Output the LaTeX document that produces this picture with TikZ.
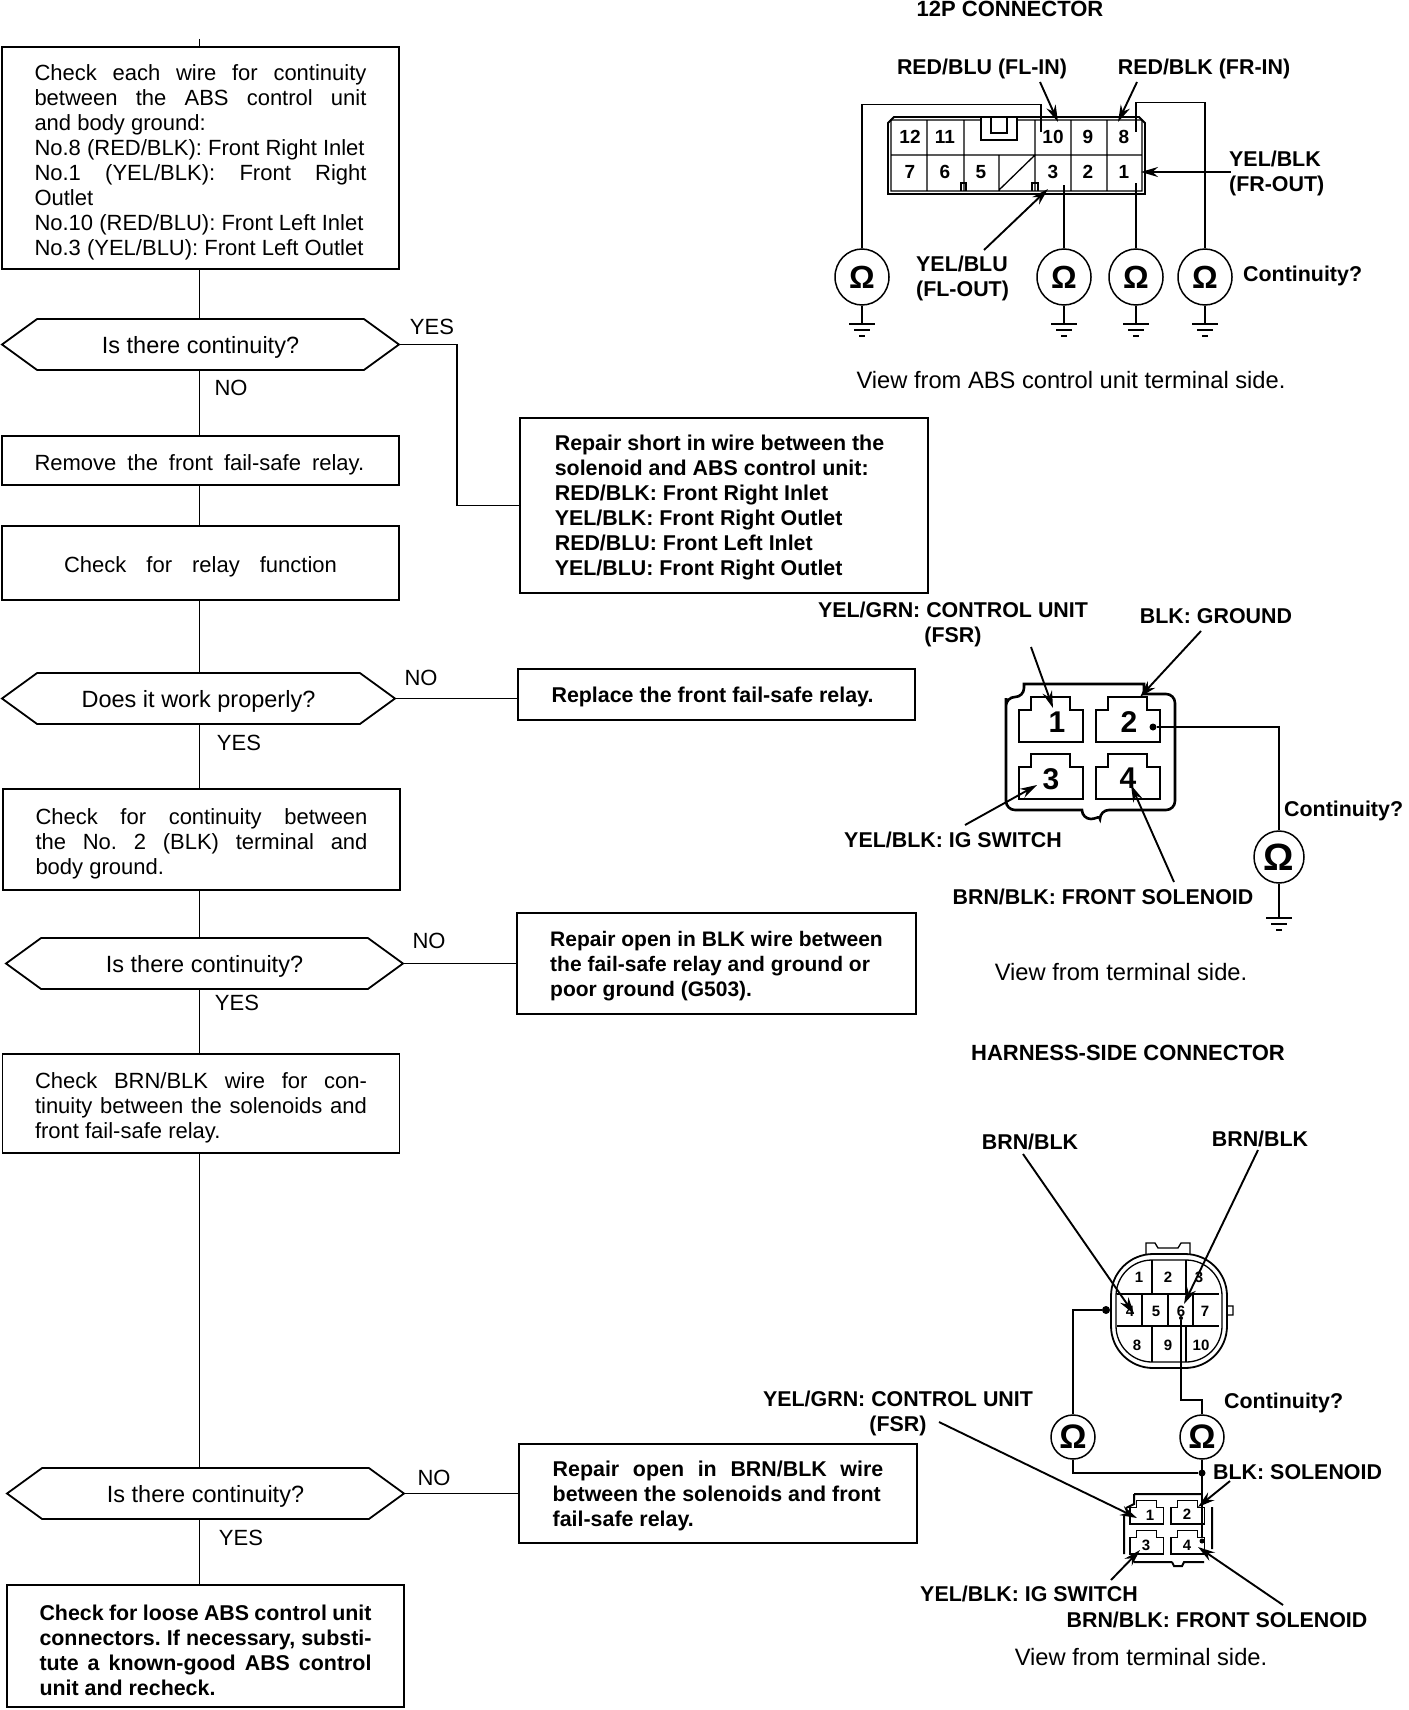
\documentclass[tikz,border=0pt]{standalone}
\usepackage{fontspec}
\setmainfont{Liberation Sans}
\usepackage{tikz}
\usetikzlibrary{arrows.meta,positioning,shapes.geometric,shapes.symbols}
\newcommand{\sz}[2]{\fontsize{#1}{#2}\selectfont}
% three bars of a ground symbol
\newcommand{\earth}[1]{\draw[line width=2pt] ([xshift=-13pt]#1) -- ++(26pt,0) ([xshift=-8pt,yshift=-6pt]#1) -- ++(16pt,0) ([xshift=-3pt,yshift=-12pt]#1) -- ++(6pt,0);}
% one terminal cavity, given by its lower left corner
\newcommand{\cavity}[2][1]{\draw[wire,shift={(#2)},scale=#1] (0,0) -- (0,-32) -- (12,-32) -- (12,-45) -- (51,-45) -- (51,-32) -- (64,-32) -- (64,0) -- cycle;}

\begin{document}
\frenchspacing
\begin{tikzpicture}[x=1pt,y=-1pt,>=Stealth,node distance=50pt,
 every node/.style={font=\sz{22}{25}},
 flowbox/.style={draw,line width=1.8pt,align=justify,text width=332pt,inner xsep=32.5pt,inner ysep=0pt,outer sep=0pt,text height=24pt},
 fixbox/.style={draw,line width=1.8pt,align=left,font=\bfseries\sz{21.4}{25},inner xsep=0pt,inner ysep=0pt,outer sep=0pt,text depth=-3pt},
 query/.style={draw,line width=1.8pt,signal,signal to=east and west,signal pointer angle=72,inner sep=0pt,outer sep=0pt,minimum width=397pt,minimum height=51pt,font=\sz{23.5}{25},text depth=0pt},
 tag/.style={font=\bfseries\sz{21.4}{25},align=center,inner sep=0pt},
 title/.style={font=\bfseries\sz{22}{25},inner sep=0pt},
 viewnote/.style={font=\sz{23.7}{25},inner sep=0pt},
 pin/.style={font=\bfseries\sz{19}{19},inner sep=0pt},
 answer/.style={inner sep=0pt},
 meter/.style={draw,ellipse,line width=1.5pt,inner sep=0pt,minimum width=54pt,minimum height=56pt,font=\bfseries\sz{32}{32}},
 dot/.style={circle,fill,inner sep=0pt,minimum size=7pt},
 wire/.style={line width=1.3pt},
 flow/.style={line width=1.8pt},
 pointer/.style={-{Stealth[length=17pt,width=10pt]},line width=1.9pt}]
\useasboundingbox (0,0) rectangle (1408,1710);

%% flow column
\coordinate (spine) at (199.5,39);
\node[flowbox,minimum height=222pt] (wires) at (200.5,158) {Check each wire for continuity\linebreak between the ABS control unit\linebreak and body ground:\\No.8 (RED/BLK): Front Right Inlet\\No.1 (YEL/BLK): Front Right\linebreak Outlet\\No.10 (RED/BLU): Front Left Inlet\\No.3 (YEL/BLU): Front Left Outlet};
\node[query,below=of wires] (cont1) {Is there continuity?};
\node[flowbox,below=66pt of cont1,minimum height=49pt] (remove) {{\spaceskip=11pt Remove the front fail-safe relay.}};
\node[flowbox,below=41pt of remove,minimum height=74pt,align=center] (relay) {{\spaceskip=20pt Check for relay function}};
\node[query,below=73pt of relay,xshift=-2pt,minimum width=393pt] (works) {Does it work properly?};
\node[flowbox,below=65pt of works,xshift=3pt,minimum height=101pt] (blkwire) {Check for continuity between\linebreak the No. 2 (BLK) terminal and\linebreak body ground.};
\node[query,below=48pt of blkwire,xshift=3pt] (cont2) {Is there continuity?};
\node[flowbox,below=65pt of cont2,xshift=-3.5pt,minimum height=99pt] (brnwire) {Check BRN/BLK wire for con-\linebreak tinuity between the solenoids and\linebreak front fail-safe relay.};
\node[query,below=315pt of brnwire,xshift=4.5pt] (cont3) {Is there continuity?};
\node[flowbox,below=66pt of cont3,minimum height=122pt,font=\bfseries\sz{21.4}{25}] (loose) {Check for loose ABS control unit\linebreak connectors. If necessary, substi-\linebreak tute a known-good ABS control\linebreak unit and recheck.};

%% repair boxes
\node[fixbox,minimum width=408pt,minimum height=175pt] (short) at (724,505.5) {Repair short in wire between the\hspace*{9pt}\\solenoid and ABS control unit:\\RED/BLK: Front Right Inlet\\YEL/BLK: Front Right Outlet\\RED/BLU: Front Left Inlet\\YEL/BLU: Front Right Outlet};
\node[fixbox,minimum width=397pt,minimum height=51pt,text depth=0pt] (replace) at (716.5,694.5) {Replace the front fail-safe relay.\hspace*{8pt}};
\node[fixbox,minimum width=399pt,minimum height=101pt,font=\bfseries\sz{21}{25}] (openblk) at (716.5,963.5) {Repair open in BLK wire between\\the fail-safe relay and ground or\\poor ground (G503).};
\node[fixbox,minimum width=398pt,minimum height=99pt] (openbrn) at (718,1493.5) {{\spaceskip=13.7pt Repair open in BRN/BLK wire}\\between the solenoids and front\\fail-safe relay.};

%% flow connectors
\draw[flow] (spine) -- (wires.north -| spine);
\draw[flow] (wires.south -| spine) -- (cont1.north -| spine);
\draw[flow] (cont1.south -| spine) -- (remove.north -| spine);
\draw[flow] (remove.south -| spine) -- (relay.north -| spine);
\draw[flow] (relay.south -| spine) -- (works.north -| spine);
\draw[flow] (works.south -| spine) -- (blkwire.north -| spine);
\draw[flow] (blkwire.south -| spine) -- (cont2.north -| spine);
\draw[flow] (cont2.south -| spine) -- (brnwire.north -| spine);
\draw[flow] (brnwire.south -| spine) -- (cont3.north -| spine);
\draw[flow] (cont3.south -| spine) -- (loose.north -| spine);
\draw[flow] (cont1.east) -- ++(58pt,0) |- (short.west);
\draw[flow] (works.east) -- (works.east -| replace.west);
\draw[flow] (cont2.east) -- (cont2.east -| openblk.west);
\draw[flow] (cont3.east) -- (cont3.east -| openbrn.west);

\node[answer] (a1) at (432,327) {YES};
\node[answer] (a2) at (231,388) {NO};
\node[answer] (a3) at (421,678) {NO};
\node[answer] (a4) at (239,743) {YES};
\node[answer] (a5) at (429,941) {NO};
\node[answer] (a6) at (237,1003) {YES};
\node[answer] (a7) at (434,1478) {NO};
\node[answer] (a8) at (241,1538) {YES};

%% 12P connector
\node[title] (titleA) at (1010,9) {12P CONNECTOR};
\node[tag] (flin) at (982,69) {RED/BLU (FL-IN)};
\node[tag] (frin) at (1204,69) {RED/BLK (FR-IN)};
\node[tag,anchor=west,align=left] (frout) at (1229,173) {YEL/BLK\\(FR-OUT)};
\node[tag,anchor=west,align=left] (flout) at (916,278) {YEL/BLU\\(FL-OUT)};
\node[tag,anchor=west] (contA) at (1243,276) {Continuity?};
\node[viewnote] (viewA) at (1071,380) {View from ABS control unit terminal side.};
\draw[line width=1.8pt] (894,117) -- (1139,117) -- (1145,123) -- (1145,194) -- (888,194) -- (888,123) -- cycle;
\draw[wire] (891,120) rectangle (1142,191) (891,155) -- (1142,155) (927,120) -- (927,191) (964,120) -- (964,191) (999,155) -- (999,191) (1035,120) -- (1035,191) (1071,120) -- (1071,191) (1107,120) -- (1107,191) (999,190) -- (1035,155);
\draw[wire,fill=white] (981,118) -- (981,140) -- (1017,140) -- (1017,118) (991,118) -- (991,133) -- (1007,133) -- (1007,118);
\draw[wire] (961,191) -- (961,183) -- (966,183) -- (966,191) (1032,191) -- (1032,183) -- (1038,183) -- (1038,191);
\node[pin] (p12) at (910,137) {12};
\node[pin] (p11) at (945,137) {11};
\node[pin] (p10) at (1053,137) {10};
\node[pin] (p9) at (1088,137) {9};
\node[pin] (p8) at (1124,137) {8};
\node[pin] (p7) at (910,172) {7};
\node[pin] (p6) at (945,172) {6};
\node[pin] (p5) at (981,172) {5};
\node[pin] (p3) at (1053,172) {3};
\node[pin] (p2) at (1088,172) {2};
\node[pin] (p1) at (1124,172) {1};
\node[meter] (m10) at (862,277) {Ω};
\node[meter] (m3) at (1064,277) {Ω};
\node[meter] (m1) at (1136,277) {Ω};
\node[meter] (m8) at (1205,277) {Ω};
\coordinate[below=18pt of m10] (g10);
\coordinate[below=18pt of m3] (g3);
\coordinate[below=18pt of m1] (g1);
\coordinate[below=18pt of m8] (g8);
\coordinate (t10) at (1041,132);
\coordinate (t8) at (1136,132);
\coordinate (t3) at (1064,185);
\coordinate (t1) at (1136,183);
\draw[wire] (m10.north) -- ++(0,-144) -| (t10);
\draw[wire] (m3.north) -- (t3);
\draw[wire] (m1.north) -- (t1);
\draw[wire] (m8.north) -- ++(0,-146) -| (t8);
\draw[wire] (m10.south) -- (g10);
\draw[wire] (m3.south) -- (g3);
\draw[wire] (m1.south) -- (g1);
\draw[wire] (m8.south) -- (g8);
\earth{g10} \earth{g3} \earth{g1} \earth{g8}
\coordinate (q1) at (1040,82); \coordinate (h1) at (1058,122);
\coordinate (q2) at (1137,82); \coordinate (h2) at (1118,122);
\coordinate (q3) at (1231,172); \coordinate (h3) at (1141,172);
\coordinate (q4) at (984,250); \coordinate (h4) at (1048,189);
\draw[pointer] (q1) -- (h1);
\draw[pointer] (q2) -- (h2);
\draw[pointer] (q3) -- (h3);
\draw[pointer] (q4) -- (h4);

%% fail-safe relay connector
\node[tag] (fsrB) at (953,624) {YEL/GRN: CONTROL UNIT\\(FSR)};
\node[tag] (gndB) at (1216,616) {BLK: GROUND};
\node[tag] (igB) at (953,840) {YEL/BLK: IG SWITCH};
\node[tag] (solB) at (1103,897) {BRN/BLK: FRONT SOLENOID};
\node[tag,anchor=west] (contB) at (1284,811) {Continuity?};
\node[viewnote] (viewB) at (1121,972) {View from terminal side.};
\node[title] (titleC) at (1128,1053) {HARNESS-SIDE CONNECTOR};
\draw[line width=2.6pt,rounded corners=9pt] (1006,707) -- (1006,697) -- (1024,697) [sharp corners] -- (1024,684) -- (1144,684) -- (1144,694) [rounded corners=9pt] -- (1175,694) -- (1175,810) -- (1100,810) [sharp corners] arc[start angle=0,end angle=-180,radius=9pt] [rounded corners=9pt] -- (1006,810) -- cycle;
\cavity{1019,742}
\cavity{1096,742}
\cavity{1019,799}
\cavity{1096,799}
\node[pin,font=\bfseries\sz{30}{30}] (r1) at (1057,722) {1};
\node[pin,font=\bfseries\sz{30}{30}] (r2) at (1129,722) {2};
\node[pin,font=\bfseries\sz{30}{30}] (r3) at (1051,779) {3};
\node[pin,font=\bfseries\sz{30}{30}] (r4) at (1128,778) {4};
\node[dot] (d2) at (1153,727) {};
\node[meter,minimum width=50pt,minimum height=52pt,font=\bfseries\sz{38}{38}] (mB) at (1279,857) {Ω};
\coordinate[below=34pt of mB] (gB);
\draw[wire] (d2) -| (mB.north);
\draw[wire] (mB.south) -- (gB);
\earth{gB}
\coordinate (q5) at (1031,647); \coordinate (h5) at (1053,708);
\coordinate (q6) at (1201,631); \coordinate (h6) at (1140,697);
\coordinate (q7) at (965,825); \coordinate (h7) at (1037,785);
\coordinate (q8) at (1174,882); \coordinate (h8) at (1131,785);
\draw[pointer] (q5) -- (h5);
\draw[pointer] (q6) -- (h6);
\draw[pointer] (q7) -- (h7);
\draw[pointer] (q8) -- (h8);

%% harness side connector
\node[tag] (brnC) at (1030,1142) {BRN/BLK};
\node[tag] (brnD) at (1260,1139) {BRN/BLK};
\node[tag] (fsrC) at (898,1413) {YEL/GRN: CONTROL UNIT\\(FSR)};
\node[tag,anchor=west] (contC) at (1224,1403) {Continuity?};
\node[tag,anchor=west] (solC) at (1213,1472) {BLK: SOLENOID};
\node[tag] (igC) at (1029,1594) {YEL/BLK: IG SWITCH};
\node[tag] (frontC) at (1217,1620) {BRN/BLK: FRONT SOLENOID};
\node[viewnote] (viewC) at (1141,1657) {View from terminal side.};
\draw[line width=1.8pt,rounded corners=42pt] (1111,1254) rectangle (1227,1368);
\draw[wire,rounded corners=36pt] (1116,1260) rectangle (1222,1362);
\draw[wire] (1146,1254) -- (1146,1243) -- (1155,1243) -- (1158,1248) -- (1178,1248) -- (1181,1243) -- (1190,1243) -- (1190,1254) (1227,1306) -- (1233,1306) -- (1233,1315) -- (1227,1315);
\draw[wire] (1117,1294) -- (1219,1294) (1117,1326) -- (1219,1326) (1152,1260) -- (1152,1294) (1186,1260) -- (1186,1294) (1142,1294) -- (1142,1326) (1168,1294) -- (1168,1326) (1193,1294) -- (1193,1326) (1152,1326) -- (1152,1362) (1186,1326) -- (1186,1362);
\node[pin,font=\bfseries\sz{15}{15}] (h01) at (1139,1277) {1};
\node[pin,font=\bfseries\sz{15}{15}] (h02) at (1168,1277) {2};
\node[pin,font=\bfseries\sz{15}{15}] (h03) at (1199,1277) {3};
\node[pin,font=\bfseries\sz{15}{15}] (h04) at (1130,1311) {4};
\node[pin,font=\bfseries\sz{15}{15}] (h05) at (1156,1311) {5};
\node[pin,font=\bfseries\sz{15}{15}] (h06) at (1181,1311) {6};
\node[pin,font=\bfseries\sz{15}{15}] (h07) at (1205,1311) {7};
\node[pin,font=\bfseries\sz{15}{15}] (h08) at (1137,1345) {8};
\node[pin,font=\bfseries\sz{15}{15}] (h09) at (1168,1345) {9};
\node[pin,font=\bfseries\sz{15}{15}] (h10) at (1201,1345) {10};
\draw[line width=2pt] (1134,1494) -- (1202,1494) (1134,1494) -- (1134,1504) -- (1126,1508) (1124,1516) -- (1124,1554) (1212,1507) -- (1212,1549) (1134,1562) -- (1172,1562) (1172,1562) -- (1174,1566) -- (1182,1566) -- (1184,1562) -- (1204,1562);
\cavity[.52]{1130,1524}
\cavity[.52]{1171,1524}
\cavity[.52]{1130,1554}
\cavity[.52]{1171,1554}
\node[pin,font=\bfseries\sz{15}{15}] (s1) at (1150,1515) {1};
\node[pin,font=\bfseries\sz{15}{15}] (s2) at (1187,1514) {2};
\node[pin,font=\bfseries\sz{15}{15}] (s3) at (1146,1545) {3};
\node[pin,font=\bfseries\sz{15}{15}] (s4) at (1187,1545) {4};
\node[dot,minimum size=8pt] (d4) at (1106,1310) {};
\node[dot,minimum size=4pt] (d6) at (1181,1318) {};
\node[dot] (dj) at (1202,1473) {};
\node[dot,minimum size=5pt] (ds) at (1202,1541) {};
\node[meter,minimum width=44pt,minimum height=44pt,font=\bfseries\sz{34}{34}] (mC) at (1073,1437) {Ω};
\node[meter,minimum width=44pt,minimum height=44pt,font=\bfseries\sz{34}{34}] (mD) at (1202,1437) {Ω};
\draw[wire] (d4) -| (mC.north);
\draw[wire] (d6) |- (1202,1400) -- (mD.north);
\draw[wire] (mC.south) |- (dj);
\draw[wire] (mD.south) -- (ds);
\coordinate (q9) at (1023,1154); \coordinate (h9) at (1134,1314);
\coordinate (q10) at (1258,1150); \coordinate (h10x) at (1184,1304);
\coordinate (q11) at (939,1422); \coordinate (h11) at (1137,1518);
\coordinate (q12) at (1230,1481); \coordinate (h12) at (1198,1507);
\coordinate (q13) at (1111,1580); \coordinate (h13) at (1140,1550);
\coordinate (q14) at (1283,1605); \coordinate (h14) at (1198,1547);
\draw[pointer] (q9) -- (h9);
\draw[pointer] (q10) -- (h10x);
\draw[pointer] (q11) -- (h11);
\draw[pointer] (q12) -- (h12);
\draw[pointer] (q13) -- (h13);
\draw[pointer] (q14) -- (h14);
\end{tikzpicture}
\end{document}
